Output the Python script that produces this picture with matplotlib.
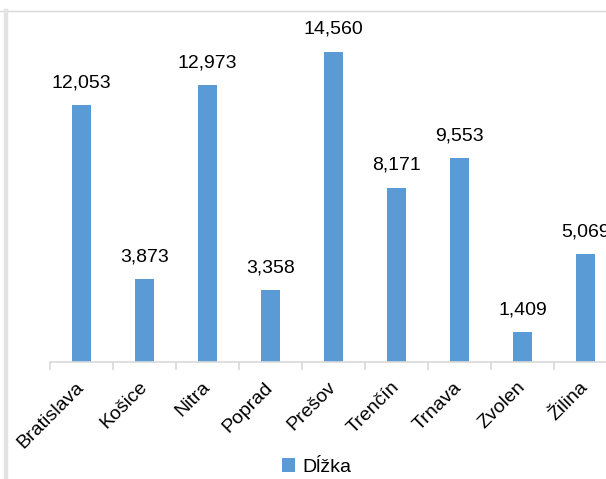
import matplotlib
matplotlib.use("Agg")
import matplotlib.pyplot as plt
import matplotlib.transforms as mtransforms
from matplotlib.lines import Line2D
from matplotlib.patches import Patch

# data
cities = ["Bratislava", "Košice", "Nitra", "Poprad", "Prešov",
          "Trenčín", "Trnava", "Zvolen", "Žilina"]
lengths = [12053, 3873, 12973, 3358, 14560, 8171, 9553, 1409, 5069]
series_name = "Dĺžka"

BAR_COLOR = "#5B9BD5"
GRID_COLOR = "#D9D9D9"

plt.rcParams["font.family"] = ["Liberation Sans", "DejaVu Sans"]

W, H = 606, 479
fig = plt.figure(figsize=(W / 100, H / 100), dpi=100)

# axes placed in pixel terms: baseline at y=362, categories 63 px wide from x=50
px_per_unit = (362 - 105) / 12053
ymax = 16000
ax_h = ymax * px_per_unit
ax = fig.add_axes([50 / W, (H - 362) / H, 567 / W, ax_h / H])

x = list(range(len(cities)))
ax.bar(x, lengths, width=0.31, color=BAR_COLOR, zorder=2)
ax.set_xlim(-0.5, len(cities) - 0.5)
ax.set_ylim(0, ymax)

for xi, v in zip(x, lengths):
    ax.annotate(f"{v:,}", (xi, v), xytext=(0, 10), textcoords="offset points",
                ha="center", va="bottom", fontsize=14, color="#000000")

for side in ("top", "right", "left"):
    ax.spines[side].set_visible(False)
ax.spines["bottom"].set_color(GRID_COLOR)
ax.spines["bottom"].set_linewidth(1.2)
ax.set_yticks([])

ax.set_xticks([i - 0.5 for i in range(len(cities) + 1)])
ax.set_xticklabels([])
ax.tick_params(axis="x", length=6, width=1.2, color=GRID_COLOR, direction="out")
ax.set_xticks(x, minor=True)
ax.set_xticklabels(cities, minor=True, rotation=45, ha="right", fontsize=14)
ax.tick_params(axis="x", which="minor", length=0, pad=12)
shift = mtransforms.ScaledTranslation(6 / 100, 0, fig.dpi_scale_trans)
for lbl in ax.get_xticklabels(minor=True):
    lbl.set_transform(lbl.get_transform() + shift)

# chart area border (cropped on the right and bottom)
fig.add_artist(Line2D([0, 1], [1 - 10.5 / H, 1 - 10.5 / H], color=GRID_COLOR, lw=1.0))
fig.add_artist(Line2D([6 / W, 6 / W], [0, 1 - 10.5 / H], color="#E3E3E3", lw=3.2))

fig.legend(handles=[Patch(facecolor=BAR_COLOR, label=series_name)],
           loc="center", bbox_to_anchor=(316.5 / W, 12 / H), frameon=False,
           fontsize=14, handlelength=0.7, handleheight=0.7, handletextpad=0.35)

fig.savefig("out.png", dpi=100)
